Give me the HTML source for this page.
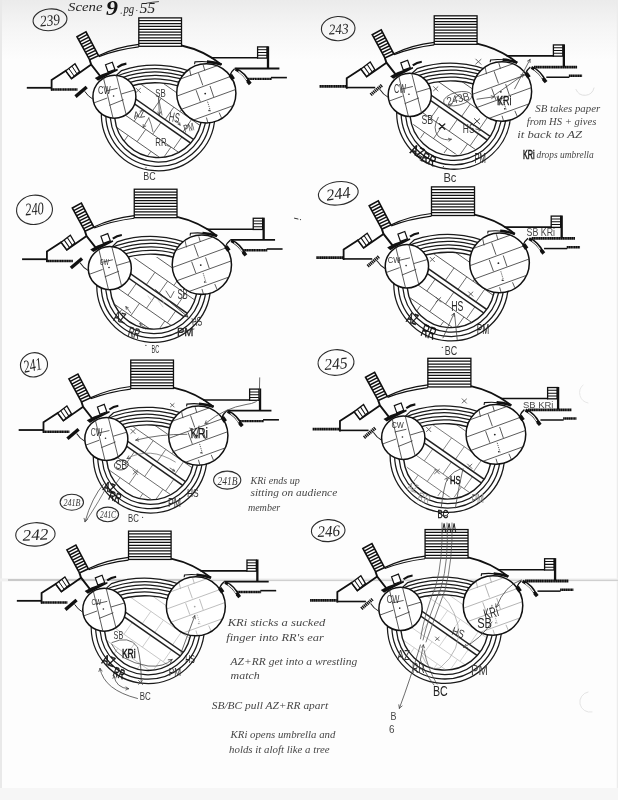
<!DOCTYPE html><html><head><meta charset="utf-8"><title>Scene 9 pg 55</title>
<style>html,body{margin:0;padding:0;background:#fdfdfd}body{width:618px;height:800px;overflow:hidden;font-family:"Liberation Sans",sans-serif}svg{display:block}</style></head><body>
<svg width="618" height="800" viewBox="0 0 618 800">
<defs><linearGradient id="topg" x1="0" y1="0" x2="0" y2="1"><stop offset="0" stop-color="#ebebeb"/><stop offset="0.45" stop-color="#f5f5f5"/><stop offset="1" stop-color="#fdfdfd"/></linearGradient>
<clipPath id="platclip"><path d="M122.50 88.97A43.6 43.6 0 1 0 196.51 93.19A87.4 87.4 0 0 0 122.50 88.97Z"/></clipPath>
<clipPath id="smclip"><circle cx="114.4" cy="96.7" r="21.5"/></clipPath>
<clipPath id="bgclip"><circle cx="206.3" cy="93.3" r="29.6"/></clipPath>
<g id="stA"><path d="M121.62 70.55A56.8 56.8 0 1 0 199.48 74.99A105.0 105.0 0 0 0 121.62 70.55Z" fill="#fff" stroke="#1a1a1a" stroke-width="1.25"/><path d="M112.0 78.05A101.6 101.6 0 0 1 200.0 79.01" fill="none" stroke="#1a1a1a" stroke-width="1.25"/><path d="M119.69 78.47A52.4 52.4 0 1 0 200.50 83.08A98.2 98.2 0 0 0 119.69 78.47Z" fill="#fff" stroke="#1a1a1a" stroke-width="1.25"/><path d="M112.0 85.73A94.7 94.7 0 0 1 200.0 86.77" fill="none" stroke="#1a1a1a" stroke-width="1.25"/><path d="M118.99 86.31A48.0 48.0 0 1 0 200.30 90.95A91.2 91.2 0 0 0 118.99 86.31Z" fill="#fff" stroke="#1a1a1a" stroke-width="1.25"/><path d="M122.50 88.97A43.6 43.6 0 1 0 196.51 93.19A87.4 87.4 0 0 0 122.50 88.97Z" fill="#fff" stroke="#1a1a1a" stroke-width="1.4"/></g><g id="stP"><g clip-path="url(#platclip)" stroke="#333" fill="none"><path d="M107.9 61.2L239.1 152.7" stroke-width="0.8"/><path d="M159.9 81.0L197.6 107.3" stroke-width="0.8"/><path d="M88.3 89.3L219.5 180.9" stroke-width="0.8"/><path d="M79.7 101.6L210.9 193.2" stroke-width="0.8"/><path d="M161.2 98.4L152.5 110.8" stroke-width="0.7"/><path d="M173.8 107.2L165.1 119.6" stroke-width="0.7"/><path d="M191.6 119.5L182.9 132.0" stroke-width="0.7"/><path d="M161.0 122.4L152.7 134.3" stroke-width="0.7"/><path d="M142.5 109.5L134.2 121.3" stroke-width="0.7"/><path d="M181.9 136.9L173.6 148.8" stroke-width="0.7"/><path d="M171.0 147.0L162.4 159.3" stroke-width="0.7"/><path d="M145.7 129.4L137.1 141.7" stroke-width="0.7"/><path d="M128.1 135.4L120.0 147.0" stroke-width="0.7"/><path d="M150.9 151.3L142.8 162.9" stroke-width="0.7"/><path d="M187.8 100.5L180.1 111.5" stroke-width="0.7"/></g></g><g id="stE"><g clip-path="url(#platclip)" stroke="#222" fill="none"><path d="M99.2 73.6L230.4 165.2" stroke-width="1.5"/><path d="M96.6 77.4L227.8 169.0" stroke-width="1.5"/></g></g><g id="stB"><circle cx="114.4" cy="96.7" r="21.5" fill="#fff" stroke="#111" stroke-width="1.5"/><g clip-path="url(#smclip)" stroke="#333" stroke-width="0.8" fill="none"><path d="M102.5 74L113.5 120M115.8 73L126.5 116M92 103.6L107.2 98M109.4 105.4L123.6 99.7M121.3 94L137 89.3M105.9 91L117.5 88.3"/></g><circle cx="113.6" cy="96" r="0.8" fill="#222"/><circle cx="206.3" cy="93.3" r="29.6" fill="#fff" stroke="#111" stroke-width="1.5"/></g><g id="stC"><g clip-path="url(#bgclip)" stroke="#333" stroke-width="0.8" fill="none"><path d="M175 80.9L225 62.9M175 96.8L240 73M175 111.6L240 87.9M190 121.3L240 103.2"/><path d="M198.5 73.2L202.8 85.3M189.5 69L191 76M203.2 65L204.8 70.5M196.1 90.2L200.3 101.7M210 86L213.7 96.9M219.2 112.6L221.5 118M206.4 117.5L208 123"/><path d="M207.6 101.7L210.7 112" stroke-dasharray="1.2 1"/></g><circle cx="205.2" cy="93.6" r="0.9" fill="#222"/><circle cx="209.1" cy="110.6" r="0.8" fill="#222"/></g><g id="stD"><rect x="138.8" y="17.9" width="42.7" height="28.4" fill="#fff" stroke="#111" stroke-width="1.3"/><path d="M138.8 20.74H181.5M138.8 23.58H181.5M138.8 26.42H181.5M138.8 29.26H181.5M138.8 32.10H181.5M138.8 34.94H181.5M138.8 37.78H181.5M138.8 40.62H181.5M138.8 43.46H181.5" stroke="#111" stroke-width="1.25" fill="none"/><path d="M98.5 55.7Q116 47 138.8 44.3" stroke="#111" stroke-width="1.2" fill="none"/><path d="M98.8 56.6Q117 49.6 138.8 46.9" stroke="#111" stroke-width="1.2" fill="none"/><path d="M181.5 45.5Q204 50.5 221.5 64.6" stroke="#111" stroke-width="1.8" fill="none"/><path d="M211 57.8H258" stroke="#111" stroke-width="1.6" fill="none"/><rect x="257.6" y="46.9" width="9.4" height="11.2" fill="#fff" stroke="#111" stroke-width="1.3"/><path d="M257.6 49.70H267M257.6 52.50H267M257.6 55.30H267" stroke="#111" stroke-width="1.0" fill="none"/><path d="M268 46.3V68.6" stroke="#111" stroke-width="2.3" fill="none"/><path d="M235.6 69.2Q244.5 73.5 249 82.6" stroke="#111" stroke-width="3.1" fill="none"/><path d="M238.5 71.2Q244 75 246.8 80" stroke="#fff" stroke-width="1.1" fill="none"/><path d="M247.8 81L250.3 84" stroke="#111" stroke-width="3.6" fill="none"/><path d="M234.6 68.8Q231.2 71.5 229.8 75.5" stroke="#111" stroke-width="1.3" fill="none"/><path d="M230.3 75L233.3 79.3" stroke="#111" stroke-width="4" fill="none"/><path d="M194.6 64.2L194.9 61.9Q208 60.3 221.5 64.6" stroke="#111" stroke-width="1.1" fill="none"/><path d="M207 61.6Q214 62 221.5 64.6" stroke="#111" stroke-width="2.6" fill="none"/><path d="M51.6 90.5V80L65.8 70.8L71.5 78.4L91.2 64.6" stroke="#111" stroke-width="1.8" fill="none" stroke-linejoin="miter"/><polygon points="65.8,70.8 75.0,63.8 79.6,71.6 71.5,78.4" fill="#fff" stroke="#111" stroke-width="1.3"/><path d="" stroke="#111" stroke-width="0.9" fill="none"/><path d="M68.8 68.5L74.2 76.2M71.9 66.1L77 73.9" stroke="#111" stroke-width="1.0" fill="none"/><polygon points="77.0,36.7 86.0,31.8 98.5,55.7 89.6,59.8" fill="#fff" stroke="#111" stroke-width="1.6"/><path d="M78.40 39.27L87.39 34.46M79.80 41.83L88.78 37.11M81.20 44.40L90.17 39.77M82.60 46.97L91.56 42.42M84.00 49.53L92.94 45.08M85.40 52.10L94.33 47.73M86.80 54.67L95.72 50.39M88.20 57.23L97.11 53.04" stroke="#111" stroke-width="1.45" fill="none"/><path d="M89.6 59.8L91.2 64.6L100.5 76.5" stroke="#111" stroke-width="1.9" fill="none"/><polygon points="105.5,64.8 112.3,62.2 114.9,69.5 108,72" fill="#fff" stroke="#111" stroke-width="1.2"/><polygon points="94.8,78 102,74.2 109,71.7 117.5,68.8 117.8,70.4 109.5,74.6 103,77.9 98,80.7" fill="#111"/><path d="M117.4 67.3Q121.5 64.3 126.4 63.6" stroke="#111" stroke-width="2.1" fill="none"/><path d="M84.7 91.3Q88 96.5 93 99.2" stroke="#222" stroke-width="1.0" fill="none"/></g><g id="stV1"><path d="M234.7 68.5H279.4" stroke="#111" stroke-width="1.8" fill="none"/><path d="M247.7 78.9H271.8" stroke="#111" stroke-width="2.4" stroke-dasharray="1.5 0.2" fill="none"/><path d="M271 77.6H286.9" stroke="#111" stroke-width="1.6" fill="none"/><path d="M26.8 87.8H51.6" stroke="#111" stroke-width="1.8" fill="none"/><path d="M51 89.5H77.5" stroke="#111" stroke-width="2.4" stroke-dasharray="1.5 0.2" fill="none"/><path d="M75.5 96.6L86.7 87" stroke="#111" stroke-width="3.4" fill="none"/></g><g id="stV2"><path d="M238.2 69H281.2" stroke="#111" stroke-width="2.8" stroke-dasharray="1.6 0.2" fill="none"/><path d="M250.5 79.1H273.5" stroke="#111" stroke-width="1.5" fill="none"/><path d="M273 77.7H286.2" stroke="#111" stroke-width="2.5" stroke-dasharray="1.6 0.2" fill="none"/><path d="M24.5 88.2H51" stroke="#111" stroke-width="2.7" stroke-dasharray="1.6 0.2" fill="none"/><path d="M51 89.4H80" stroke="#111" stroke-width="1.6" fill="none"/><path d="M75.5 96.6L86.7 87" stroke="#111" stroke-width="3.4" stroke-dasharray="1.3 0.6" fill="none"/></g>
</defs>
<rect width="618" height="800" fill="#fdfdfd"/>
<rect x="0" y="0" width="618" height="60" fill="url(#topg)"/><rect x="0" y="0" width="2" height="800" fill="#e9e9e9"/><rect x="616.8" y="0" width="1.2" height="800" fill="#ececec"/><rect x="0" y="788" width="618" height="12" fill="#f6f6f6"/>
<rect x="0" y="578.4" width="618" height="3" fill="#f0f0f0"/><path d="M8 580H210" stroke="#999" stroke-width="0.9"/><path d="M210 580.3H618" stroke="#c4c4c4" stroke-width="0.9"/>
<g transform="translate(0.00 0.00) scale(1.0000)"><use href="#stA"/><g clip-path="url(#platclip)"><g transform="translate(0 0)"><use href="#stP" opacity="1"/><use href="#stE"/></g></g><use href="#stB"/><use href="#stC" opacity="1"/><use href="#stD"/><use href="#stV1"/></g>
<g transform="translate(-4.76 171.29) scale(1.0015)"><use href="#stA"/><g clip-path="url(#platclip)"><g transform="translate(-1.7 2.5)"><use href="#stP" opacity="1"/><use href="#stE"/></g></g><use href="#stB"/><use href="#stC" opacity="1"/><use href="#stD"/><use href="#stV1"/></g>
<g transform="translate(-8.15 342.16) scale(1.0007)"><use href="#stA"/><g clip-path="url(#platclip)"><g transform="translate(0 0)"><use href="#stP" opacity="0.9"/><use href="#stE"/></g></g><use href="#stB"/><use href="#stC" opacity="1"/><use href="#stD"/><use href="#stV1"/></g>
<g transform="translate(-9.88 513.28) scale(0.9971)"><use href="#stA"/><g clip-path="url(#platclip)"><g transform="translate(0 0)"><use href="#stP" opacity="0.35"/><use href="#stE"/></g></g><use href="#stB"/><use href="#stC" opacity="0.4"/><use href="#stD"/><use href="#stV1"/></g>
<g transform="translate(294.96 -2.13) scale(1.0033)"><use href="#stA"/><g clip-path="url(#platclip)"><g transform="translate(1.0 -1.4)"><use href="#stP" opacity="1"/><use href="#stE"/></g></g><use href="#stB"/><use href="#stC" opacity="1"/><use href="#stD"/><use href="#stV2"/></g>
<g transform="translate(291.62 168.84) scale(1.0077)"><use href="#stA"/><g clip-path="url(#platclip)"><g transform="translate(0 0)"><use href="#stP" opacity="1"/><use href="#stE"/></g></g><use href="#stB"/><use href="#stC" opacity="1"/><use href="#stD"/><use href="#stV2"/></g>
<g transform="translate(287.93 340.26) scale(1.0081)"><use href="#stA"/><g clip-path="url(#platclip)"><g transform="translate(1.1 -1.6)"><use href="#stP" opacity="0.8"/><use href="#stE"/></g></g><use href="#stB"/><use href="#stC" opacity="1"/><use href="#stD"/><use href="#stV2"/></g>
<g transform="translate(285.41 511.55) scale(1.0062)"><use href="#stA"/><g clip-path="url(#platclip)"><g transform="translate(0 0)"><use href="#stP" opacity="0.3"/><use href="#stE"/></g></g><use href="#stB"/><use href="#stC" opacity="0.45"/><use href="#stD"/><use href="#stV2"/></g>
<g opacity="0.99"><text x="68.0" y="10.8" font-size="13.5" textLength="34.5" lengthAdjust="spacingAndGlyphs" fill="#222" font-style="italic" font-family='"Liberation Serif",serif'>Scene</text>
<text x="106.0" y="14.8" font-size="20.6" textLength="12.0" lengthAdjust="spacingAndGlyphs" fill="#111" font-weight="bold" font-style="italic" font-family='"Liberation Serif",serif'>9</text>
<circle cx="121.2" cy="13.2" r="0.6" fill="#333"/>
<text x="123.5" y="12.6" font-size="11.5" textLength="10.7" lengthAdjust="spacingAndGlyphs" fill="#222" font-style="italic" font-family='"Liberation Serif",serif'>pg</text>
<circle cx="136.8" cy="10.5" r="0.6" fill="#333"/>
<text x="139.4" y="12.5" font-size="14.7" textLength="15.9" lengthAdjust="spacingAndGlyphs" fill="#222" font-weight="normal" font-style="italic" font-family='"Liberation Serif",serif'>55</text>
<path d="M146.5 3.2Q152 2.2 158.5 1.6" fill="none" stroke="#333" stroke-width="0.9" stroke-linecap="round" />
<ellipse cx="50" cy="19.8" rx="17" ry="10.8" fill="none" stroke="#2a2a2a" stroke-width="1.1" transform="rotate(-6 50 19.8)"/>
<text x="40.0" y="25.6" font-size="15.8" textLength="20.0" lengthAdjust="spacingAndGlyphs" fill="#222" font-weight="normal" font-style="italic" font-family='"Liberation Serif",serif' transform="rotate(-6 50.0 20.4)">239</text>
<ellipse cx="338.2" cy="28.6" rx="16.8" ry="12.1" fill="none" stroke="#2a2a2a" stroke-width="1.1" transform="rotate(-3 338.2 28.6)"/>
<text x="328.7" y="34.0" font-size="14.7" textLength="19.8" lengthAdjust="spacingAndGlyphs" fill="#222" font-weight="normal" font-style="italic" font-family='"Liberation Serif",serif' transform="rotate(-3 338.6 29.1)">243</text>
<ellipse cx="34.5" cy="209.8" rx="18" ry="14.6" fill="none" stroke="#2a2a2a" stroke-width="1.1" transform="rotate(-5 34.5 209.8)"/>
<text x="25.2" y="214.7" font-size="17.7" textLength="18.5" lengthAdjust="spacingAndGlyphs" fill="#222" font-weight="normal" font-style="italic" font-family='"Liberation Serif",serif' transform="rotate(-5 34.5 208.8)">240</text>
<ellipse cx="338.3" cy="193.3" rx="20" ry="11.6" fill="none" stroke="#2a2a2a" stroke-width="1.1" transform="rotate(-8 338.3 193.3)"/>
<text x="326.2" y="199.1" font-size="16.2" textLength="24.3" lengthAdjust="spacingAndGlyphs" fill="#222" font-weight="normal" font-style="italic" font-family='"Liberation Serif",serif' transform="rotate(-8 338.4 193.8)">244</text>
<ellipse cx="34" cy="364.8" rx="13.6" ry="12.1" fill="none" stroke="#2a2a2a" stroke-width="1.1" transform="rotate(-12 34 364.8)"/>
<text x="23.3" y="371.0" font-size="17.6" textLength="18.4" lengthAdjust="spacingAndGlyphs" fill="#222" font-weight="normal" font-style="italic" font-family='"Liberation Serif",serif' transform="rotate(-12 32.5 365.2)">241</text>
<ellipse cx="336" cy="362.5" rx="18" ry="12.8" fill="none" stroke="#2a2a2a" stroke-width="1.1" transform="rotate(-5 336 362.5)"/>
<text x="324.3" y="369.1" font-size="16.2" textLength="23.3" lengthAdjust="spacingAndGlyphs" fill="#222" font-weight="normal" font-style="italic" font-family='"Liberation Serif",serif' transform="rotate(-5 336.0 363.8)">245</text>
<ellipse cx="35.4" cy="534.4" rx="19.7" ry="11.7" fill="none" stroke="#2a2a2a" stroke-width="1.1" transform="rotate(-3 35.4 534.4)"/>
<text x="22.5" y="540.0" font-size="15.9" textLength="26.0" lengthAdjust="spacingAndGlyphs" fill="#222" font-weight="normal" font-style="italic" font-family='"Liberation Serif",serif' transform="rotate(-3 35.5 534.8)">242</text>
<ellipse cx="328.2" cy="530.6" rx="16.8" ry="11" fill="none" stroke="#2a2a2a" stroke-width="1.1" transform="rotate(-3 328.2 530.6)"/>
<text x="317.5" y="536.5" font-size="15.9" textLength="22.5" lengthAdjust="spacingAndGlyphs" fill="#222" font-weight="normal" font-style="italic" font-family='"Liberation Serif",serif' transform="rotate(-3 328.8 531.2)">246</text>
<text x="98.0" y="93.5" font-size="11.0" textLength="12.6" lengthAdjust="spacingAndGlyphs" fill="#333" font-weight="normal" font-style="normal" font-family='"Liberation Sans",sans-serif'>CW</text>
<path d="M136.1 88.2L140.5 92.6M140.5 88.4L136.1 92.4" fill="none" stroke="#444" stroke-width="0.8" stroke-linecap="round" />
<text x="155.3" y="96.8" font-size="10.0" textLength="10.5" lengthAdjust="spacingAndGlyphs" fill="#333" font-weight="normal" font-style="normal" font-family='"Liberation Sans",sans-serif'>SB</text>
<text x="133.5" y="117.9" font-size="10.1" textLength="11.3" lengthAdjust="spacingAndGlyphs" fill="#333" font-weight="normal" font-style="normal" font-family='"Liberation Sans",sans-serif' transform="rotate(-8 139.2 114.2)">AZ</text>
<text x="169.0" y="122.0" font-size="13.6" textLength="10.6" lengthAdjust="spacingAndGlyphs" fill="#333" font-weight="normal" font-style="normal" font-family='"Liberation Sans",sans-serif' transform="rotate(10 174.3 117.1)">HS</text>
<text x="183.6" y="131.6" font-size="11.2" textLength="10.5" lengthAdjust="spacingAndGlyphs" fill="#333" font-weight="normal" font-style="normal" font-family='"Liberation Sans",sans-serif' transform="rotate(-15 188.8 127.5)">PM</text>
<text x="155.3" y="146.2" font-size="10.1" textLength="11.3" lengthAdjust="spacingAndGlyphs" fill="#333" font-weight="normal" font-style="normal" font-family='"Liberation Sans",sans-serif'>RR</text>
<text x="143.3" y="180.0" font-size="10.7" textLength="12.4" lengthAdjust="spacingAndGlyphs" fill="#333" font-weight="normal" font-style="normal" font-family='"Liberation Sans",sans-serif'>BC</text>
<circle cx="146" cy="167.7" r="0.6" fill="#333"/>
<path d="M158.5 97.7L159.4 114.5" fill="none" stroke="#444" stroke-width="0.8" stroke-linecap="round" />
<path d="M159.4 114.5L157.8 112.0" fill="none" stroke="#444" stroke-width="0.8" stroke-linecap="round" />
<path d="M159.4 114.5L160.8 111.8" fill="none" stroke="#444" stroke-width="0.8" stroke-linecap="round" />
<path d="M158.5 97.7L162 115" fill="none" stroke="#444" stroke-width="0.7" stroke-linecap="round" />
<path d="M148.8 117.9L143.2 127.5" fill="none" stroke="#444" stroke-width="0.8" stroke-linecap="round" />
<path d="M143.2 127.5L143.2 124.5" fill="none" stroke="#444" stroke-width="0.8" stroke-linecap="round" />
<path d="M143.2 127.5L145.8 126.0" fill="none" stroke="#444" stroke-width="0.8" stroke-linecap="round" />
<path d="M148.8 117.9Q151.5 124 152.9 131.6" fill="none" stroke="#444" stroke-width="0.7" stroke-linecap="round" />
<path d="M176.5 120.5L180 125" fill="none" stroke="#444" stroke-width="0.8" stroke-linecap="round" />
<path d="M180.0 125.0L178.0 124.2" fill="none" stroke="#444" stroke-width="0.8" stroke-linecap="round" />
<path d="M180.0 125.0L179.7 122.8" fill="none" stroke="#444" stroke-width="0.8" stroke-linecap="round" />
<path d="M166.8 145.5L169.5 146.3" fill="none" stroke="#444" stroke-width="0.8" stroke-linecap="round" />
<text x="394.0" y="92.7" font-size="12.5" textLength="12.0" lengthAdjust="spacingAndGlyphs" fill="#333" font-weight="normal" font-style="normal" font-family='"Liberation Sans",sans-serif'>CW</text>
<path d="M475.8 59.1L481.0 64.3M481.0 59.4L475.8 64.0" fill="none" stroke="#444" stroke-width="0.8" stroke-linecap="round" />
<path d="M433.5 86.6L437.9 91.0M437.9 86.8L433.5 90.8" fill="none" stroke="#444" stroke-width="0.8" stroke-linecap="round" />
<ellipse cx="457.7" cy="98.7" rx="14.5" ry="6.5" fill="none" stroke="#555" stroke-width="0.8" transform="rotate(-14 457.7 98.7)"/>
<text x="446.5" y="102.5" font-size="11.1" textLength="23.0" lengthAdjust="spacingAndGlyphs" fill="#444" font-weight="normal" font-style="normal" font-family='"Liberation Sans",sans-serif' transform="rotate(-14 458.0 98.5)">243B</text>
<text x="421.4" y="123.8" font-size="12.6" textLength="11.6" lengthAdjust="spacingAndGlyphs" fill="#333" font-weight="normal" font-style="normal" font-family='"Liberation Sans",sans-serif'>SB</text>
<path d="M439.2 123.6L444.8 129.2M444.8 123.9L439.2 128.9" fill="none" stroke="#222" stroke-width="1.3" stroke-linecap="round" />
<path d="M438.3 117.3Q432 128 438 136Q444 141 451 139.5" fill="none" stroke="#444" stroke-width="0.8" stroke-linecap="round" />
<path d="M451.2 139.3L448.9 141.2" fill="none" stroke="#444" stroke-width="0.8" stroke-linecap="round" />
<path d="M451.2 139.3L448.4 138.3" fill="none" stroke="#444" stroke-width="0.8" stroke-linecap="round" />
<text x="462.8" y="132.8" font-size="12.5" textLength="11.7" lengthAdjust="spacingAndGlyphs" fill="#333" font-weight="normal" font-style="normal" font-family='"Liberation Sans",sans-serif'>HS</text>
<path d="M474.4 118.6L479.6 123.8M479.6 118.9L474.4 123.5" fill="none" stroke="#333" stroke-width="1.0" stroke-linecap="round" />
<path d="M475.8 129L481 130.3" fill="none" stroke="#444" stroke-width="0.8" stroke-linecap="round" />
<path d="M481.0 130.3L478.9 130.9" fill="none" stroke="#444" stroke-width="0.8" stroke-linecap="round" />
<path d="M481.0 130.3L479.4 128.8" fill="none" stroke="#444" stroke-width="0.8" stroke-linecap="round" />
<text x="497.0" y="105.0" font-size="12.5" textLength="14.5" lengthAdjust="spacingAndGlyphs" fill="#1a1a1a" font-weight="normal" font-style="normal" font-family='"Liberation Sans",sans-serif' stroke="#1a1a1a" stroke-width="0.3">KRi</text>
<path d="M497 97L500 104M502 96.5L499.5 105" fill="none" stroke="#222" stroke-width="0.8" stroke-linecap="round" />
<path d="M477 99.2L494 96.8" fill="none" stroke="#444" stroke-width="0.8" stroke-linecap="round" />
<path d="M494.0 96.8L491.6 98.6" fill="none" stroke="#444" stroke-width="0.8" stroke-linecap="round" />
<path d="M494.0 96.8L491.2 95.7" fill="none" stroke="#444" stroke-width="0.8" stroke-linecap="round" />
<path d="M494 95.5L523.7 74.6" fill="none" stroke="#444" stroke-width="0.8" stroke-linecap="round" />
<path d="M523.7 74.6L522.4 77.3" fill="none" stroke="#444" stroke-width="0.8" stroke-linecap="round" />
<path d="M523.7 74.6L520.7 74.9" fill="none" stroke="#444" stroke-width="0.8" stroke-linecap="round" />
<path d="M514.6 88.8L530 59.5" fill="none" stroke="#444" stroke-width="0.8" stroke-linecap="round" />
<path d="M530.0 59.5L530.1 62.5" fill="none" stroke="#444" stroke-width="0.8" stroke-linecap="round" />
<path d="M530.0 59.5L527.5 61.1" fill="none" stroke="#444" stroke-width="0.8" stroke-linecap="round" />
<text x="411.0" y="156.0" font-size="13.9" textLength="13.0" lengthAdjust="spacingAndGlyphs" fill="#111" font-weight="normal" font-style="normal" font-family='"Liberation Sans",sans-serif' transform="rotate(25 417.5 151.0)" stroke="#111" stroke-width="0.5">AZ</text>
<text x="422.0" y="164.0" font-size="13.9" textLength="14.0" lengthAdjust="spacingAndGlyphs" fill="#111" font-weight="normal" font-style="normal" font-family='"Liberation Sans",sans-serif' transform="rotate(25 429.0 159.0)" stroke="#111" stroke-width="0.5">RR</text>
<path d="M411 150L424 158M420 160L434 166" fill="none" stroke="#222" stroke-width="0.9" stroke-linecap="round" />
<text x="474.5" y="162.6" font-size="14.3" textLength="11.5" lengthAdjust="spacingAndGlyphs" fill="#222" font-weight="normal" font-style="normal" font-family='"Liberation Sans",sans-serif'>PM</text>
<text x="443.4" y="182.0" font-size="12.5" textLength="13.0" lengthAdjust="spacingAndGlyphs" fill="#333" font-weight="normal" font-style="normal" font-family='"Liberation Sans",sans-serif'>Bc</text>
<circle cx="443.4" cy="166.5" r="0.6" fill="#333"/>
<text x="535.3" y="111.5" font-size="10.5" textLength="64.9" lengthAdjust="spacingAndGlyphs" fill="#444" font-style="italic" font-family='"Liberation Serif",serif'>SB takes paper</text>
<text x="526.7" y="124.9" font-size="10.5" textLength="69.7" lengthAdjust="spacingAndGlyphs" fill="#444" font-style="italic" font-family='"Liberation Serif",serif'>from HS + gives</text>
<text x="517.2" y="138.2" font-size="10.5" textLength="64.9" lengthAdjust="spacingAndGlyphs" fill="#444" font-style="italic" font-family='"Liberation Serif",serif'>it back to AZ</text>
<text x="522.9" y="158.5" font-size="12.5" textLength="11.6" lengthAdjust="spacingAndGlyphs" fill="#111" font-weight="normal" font-style="normal" font-family='"Liberation Sans",sans-serif' stroke="#111" stroke-width="0.5">KRi</text>
<text x="536.5" y="158.3" font-size="10.5" textLength="57.1" lengthAdjust="spacingAndGlyphs" fill="#444" font-style="italic" font-family='"Liberation Serif",serif'>drops umbrella</text>
<path d="M576 89.5A9.5 9.5 0 0 0 594 88" fill="none" stroke="#d8d8d8" stroke-width="0.8" stroke-linecap="round" />
<text x="99.8" y="265.0" font-size="8.8" textLength="9.0" lengthAdjust="spacingAndGlyphs" fill="#333" font-weight="normal" font-style="normal" font-family='"Liberation Sans",sans-serif'>CW</text>
<text x="177.4" y="298.8" font-size="14.4" textLength="10.4" lengthAdjust="spacingAndGlyphs" fill="#333" font-weight="normal" font-style="normal" font-family='"Liberation Sans",sans-serif'>SB</text>
<path d="M155.4 289.7L187.8 316.9" fill="none" stroke="#333" stroke-width="0.9" stroke-linecap="round" />
<path d="M187.8 316.9L184.4 316.3" fill="none" stroke="#333" stroke-width="0.9" stroke-linecap="round" />
<path d="M187.8 316.9L186.6 313.6" fill="none" stroke="#333" stroke-width="0.9" stroke-linecap="round" />
<path d="M166 291L170.5 298L174 291.5" fill="none" stroke="#444" stroke-width="0.8" stroke-linecap="round" />
<text x="191.7" y="326.0" font-size="12.6" textLength="10.3" lengthAdjust="spacingAndGlyphs" fill="#333" font-weight="normal" font-style="normal" font-family='"Liberation Sans",sans-serif' transform="rotate(-10 196.8 321.4)">HS</text>
<text x="177.0" y="335.5" font-size="11.8" textLength="16.5" lengthAdjust="spacingAndGlyphs" fill="#222" font-weight="normal" font-style="normal" font-family='"Liberation Sans",sans-serif' stroke="#222" stroke-width="0.3">PM</text>
<path d="M176 333L194 329" fill="none" stroke="#333" stroke-width="0.8" stroke-linecap="round" />
<text x="114.0" y="322.0" font-size="14.3" textLength="11.7" lengthAdjust="spacingAndGlyphs" fill="#222" font-weight="normal" font-style="normal" font-family='"Liberation Sans",sans-serif' transform="rotate(15 119.8 316.9)" stroke="#222" stroke-width="0.3">AZ</text>
<path d="M130.8 313L126 306.8" fill="none" stroke="#444" stroke-width="0.8" stroke-linecap="round" />
<path d="M126.0 306.8L128.3 307.7" fill="none" stroke="#444" stroke-width="0.8" stroke-linecap="round" />
<path d="M126.0 306.8L126.3 309.3" fill="none" stroke="#444" stroke-width="0.8" stroke-linecap="round" />
<text x="128.3" y="337.6" font-size="14.3" textLength="11.7" lengthAdjust="spacingAndGlyphs" fill="#222" font-weight="normal" font-style="normal" font-family='"Liberation Sans",sans-serif' transform="rotate(15 134.2 332.5)" stroke="#222" stroke-width="0.3">RR</text>
<path d="M145 329L140 323.5" fill="none" stroke="#444" stroke-width="0.8" stroke-linecap="round" />
<path d="M140.0 323.5L142.4 324.3" fill="none" stroke="#444" stroke-width="0.8" stroke-linecap="round" />
<path d="M140.0 323.5L140.5 325.9" fill="none" stroke="#444" stroke-width="0.8" stroke-linecap="round" />
<text x="151.6" y="353.2" font-size="10.8" textLength="7.7" lengthAdjust="spacingAndGlyphs" fill="#333" font-weight="normal" font-style="normal" font-family='"Liberation Sans",sans-serif'>BC</text>
<circle cx="145.9" cy="345.4" r="0.6" fill="#333"/>
<path d="M148 296L152 301M158 300L163 307M161 297L164 303" fill="none" stroke="#bbb" stroke-width="0.7" stroke-linecap="round" />
<path d="M294.5 218.2L298 219" fill="none" stroke="#333" stroke-width="1.0" stroke-linecap="round" />
<circle cx="300.5" cy="219.6" r="0.6" fill="#333"/>
<text x="90.8" y="435.8" font-size="10.1" textLength="11.6" lengthAdjust="spacingAndGlyphs" fill="#333" font-weight="normal" font-style="normal" font-family='"Liberation Sans",sans-serif'>CW</text>
<path d="M170.5 403.4L174.1 407.0M174.1 403.6L170.5 406.8" fill="none" stroke="#444" stroke-width="0.8" stroke-linecap="round" />
<path d="M130.8 429.2L135.2 433.6M135.2 429.4L130.8 433.4" fill="none" stroke="#444" stroke-width="0.8" stroke-linecap="round" />
<text x="190.5" y="438.0" font-size="15.3" textLength="17.5" lengthAdjust="spacingAndGlyphs" fill="#1a1a1a" font-weight="normal" font-style="normal" font-family='"Liberation Sans",sans-serif' stroke="#1a1a1a" stroke-width="0.25">KRi</text>
<path d="M190 428L195 438M199 426L196 438" fill="none" stroke="#222" stroke-width="0.8" stroke-linecap="round" />
<path d="M186.9 434.3Q160 434 135.9 440.1" fill="none" stroke="#444" stroke-width="0.8" stroke-linecap="round" />
<path d="M135.9 440.1L138.2 438.2" fill="none" stroke="#444" stroke-width="0.8" stroke-linecap="round" />
<path d="M135.9 440.1L138.7 441.1" fill="none" stroke="#444" stroke-width="0.8" stroke-linecap="round" />
<path d="M259.7 377.8L259.3 397Q258.5 403 246 404.5Q225 408 206 423" fill="none" stroke="#444" stroke-width="0.8" stroke-linecap="round" />
<path d="M205.0 423.8L206.1 420.8" fill="none" stroke="#444" stroke-width="0.8" stroke-linecap="round" />
<path d="M205.0 423.8L208.2 423.2" fill="none" stroke="#444" stroke-width="0.8" stroke-linecap="round" />
<path d="M127.2 458.5Q150 446 175.3 462" fill="none" stroke="#666" stroke-width="0.7" stroke-linecap="round" />
<path d="M127.2 458.5L128.7 455.9" fill="none" stroke="#444" stroke-width="0.8" stroke-linecap="round" />
<path d="M127.2 458.5L130.2 458.5" fill="none" stroke="#444" stroke-width="0.8" stroke-linecap="round" />
<ellipse cx="121.3" cy="464.9" rx="7" ry="5" fill="none" stroke="#2a2a2a" stroke-width="0.8" transform="rotate(-10 121.3 464.9)"/>
<text x="115.5" y="469.3" font-size="12.2" textLength="11.7" lengthAdjust="spacingAndGlyphs" fill="#333" font-weight="normal" font-style="normal" font-family='"Liberation Sans",sans-serif'>SB</text>
<path d="M133.1 470.0L137.5 474.4M137.5 470.2L133.1 474.2" fill="none" stroke="#444" stroke-width="0.8" stroke-linecap="round" />
<path d="M170 468L174.5 471" fill="none" stroke="#444" stroke-width="0.8" stroke-linecap="round" />
<path d="M174.5 471.0L172.5 470.9" fill="none" stroke="#444" stroke-width="0.8" stroke-linecap="round" />
<path d="M174.5 471.0L173.6 469.2" fill="none" stroke="#444" stroke-width="0.8" stroke-linecap="round" />
<text x="103.9" y="492.0" font-size="13.3" textLength="11.1" lengthAdjust="spacingAndGlyphs" fill="#111" font-weight="normal" font-style="normal" font-family='"Liberation Sans",sans-serif' transform="rotate(20 109.5 487.2)" stroke="#111" stroke-width="0.5">AZ</text>
<text x="109.0" y="501.3" font-size="12.9" textLength="12.4" lengthAdjust="spacingAndGlyphs" fill="#111" font-weight="normal" font-style="normal" font-family='"Liberation Sans",sans-serif' transform="rotate(20 115.2 496.6)" stroke="#111" stroke-width="0.5">RR</text>
<path d="M103.9 483.8Q92 497 85 521.7" fill="none" stroke="#444" stroke-width="0.8" stroke-linecap="round" />
<path d="M85.0 521.7L84.1 518.3" fill="none" stroke="#444" stroke-width="0.8" stroke-linecap="round" />
<path d="M85.0 521.7L87.5 519.2" fill="none" stroke="#444" stroke-width="0.8" stroke-linecap="round" />
<path d="M107 486Q100 500 86 521" fill="none" stroke="#444" stroke-width="0.7" stroke-linecap="round" />
<ellipse cx="71.8" cy="502.2" rx="11.7" ry="8" fill="none" stroke="#2a2a2a" stroke-width="1.1"/>
<text x="63.5" y="505.8" font-size="11.4" textLength="17.0" lengthAdjust="spacingAndGlyphs" fill="#333" font-weight="normal" font-style="italic" font-family='"Liberation Serif",serif'>241B</text>
<ellipse cx="107.7" cy="514.4" rx="10.9" ry="7.3" fill="none" stroke="#2a2a2a" stroke-width="1.1"/>
<text x="100.0" y="518.0" font-size="10.9" textLength="16.0" lengthAdjust="spacingAndGlyphs" fill="#333" font-weight="normal" font-style="italic" font-family='"Liberation Serif",serif'>241C</text>
<text x="128.0" y="521.7" font-size="10.1" textLength="10.8" lengthAdjust="spacingAndGlyphs" fill="#333" font-weight="normal" font-style="normal" font-family='"Liberation Sans",sans-serif'>BC</text>
<circle cx="142.6" cy="517.3" r="0.6" fill="#333"/>
<text x="168.0" y="507.0" font-size="11.9" textLength="13.0" lengthAdjust="spacingAndGlyphs" fill="#333" font-weight="normal" font-style="normal" font-family='"Liberation Sans",sans-serif'>PM</text>
<text x="186.9" y="497.0" font-size="10.1" textLength="11.7" lengthAdjust="spacingAndGlyphs" fill="#333" font-weight="normal" font-style="normal" font-family='"Liberation Sans",sans-serif'>HS</text>
<ellipse cx="227.2" cy="480.1" rx="13.6" ry="9" fill="none" stroke="#2a2a2a" stroke-width="1.1"/>
<text x="217.5" y="484.5" font-size="12.9" textLength="20.0" lengthAdjust="spacingAndGlyphs" fill="#333" font-weight="normal" font-style="italic" font-family='"Liberation Serif",serif'>241B</text>
<text x="250.5" y="484.0" font-size="10.5" textLength="49.2" lengthAdjust="spacingAndGlyphs" fill="#444" font-style="italic" font-family='"Liberation Serif",serif'>KRi ends up</text>
<text x="250.5" y="495.7" font-size="10.5" textLength="86.7" lengthAdjust="spacingAndGlyphs" fill="#444" font-style="italic" font-family='"Liberation Serif",serif'>sitting on audience</text>
<text x="247.9" y="511.2" font-size="10.5" textLength="32.4" lengthAdjust="spacingAndGlyphs" fill="#444" font-style="italic" font-family='"Liberation Serif",serif'>member</text>
<text x="91.6" y="604.8" font-size="9.6" textLength="9.7" lengthAdjust="spacingAndGlyphs" fill="#333" font-weight="normal" font-style="normal" font-family='"Liberation Sans",sans-serif'>CW</text>
<text x="113.6" y="639.1" font-size="11.4" textLength="9.7" lengthAdjust="spacingAndGlyphs" fill="#333" font-weight="normal" font-style="normal" font-family='"Liberation Sans",sans-serif'>SB</text>
<text x="121.9" y="658.4" font-size="13.3" textLength="13.8" lengthAdjust="spacingAndGlyphs" fill="#111" font-weight="normal" font-style="normal" font-family='"Liberation Sans",sans-serif' stroke="#111" stroke-width="0.5">KRi</text>
<text x="102.6" y="665.3" font-size="13.3" textLength="12.4" lengthAdjust="spacingAndGlyphs" fill="#111" font-weight="normal" font-style="normal" font-family='"Liberation Sans",sans-serif' transform="rotate(20 108.8 660.5)" stroke="#111" stroke-width="0.5">AZ</text>
<text x="113.6" y="677.7" font-size="13.5" textLength="11.0" lengthAdjust="spacingAndGlyphs" fill="#111" font-weight="normal" font-style="normal" font-family='"Liberation Sans",sans-serif' transform="rotate(20 119.1 672.9)" stroke="#111" stroke-width="0.5">RR</text>
<text x="185.2" y="662.5" font-size="11.4" textLength="9.6" lengthAdjust="spacingAndGlyphs" fill="#222" font-weight="normal" font-style="normal" font-family='"Liberation Sans",sans-serif'>HS</text>
<text x="168.7" y="676.3" font-size="11.5" textLength="12.3" lengthAdjust="spacingAndGlyphs" fill="#333" font-weight="normal" font-style="normal" font-family='"Liberation Sans",sans-serif'>PM</text>
<text x="139.8" y="699.7" font-size="11.5" textLength="11.0" lengthAdjust="spacingAndGlyphs" fill="#333" font-weight="normal" font-style="normal" font-family='"Liberation Sans",sans-serif'>BC</text>
<path d="M111.5 644Q119 661 148 666Q164 667.5 172 659.5" fill="none" stroke="#444" stroke-width="0.8" stroke-linecap="round" />
<path d="M172.0 659.5L170.4 662.9" fill="none" stroke="#444" stroke-width="0.8" stroke-linecap="round" />
<path d="M172.0 659.5L168.2 659.8" fill="none" stroke="#444" stroke-width="0.8" stroke-linecap="round" />
<path d="M181 652.9L194.8 615.8" fill="none" stroke="#444" stroke-width="0.8" stroke-linecap="round" />
<path d="M194.8 615.8L195.3 618.8" fill="none" stroke="#444" stroke-width="0.8" stroke-linecap="round" />
<path d="M194.8 615.8L192.5 617.7" fill="none" stroke="#444" stroke-width="0.8" stroke-linecap="round" />
<path d="M112 642.5Q129 635 137.5 647Q141.5 662 141.2 683.2" fill="none" stroke="#444" stroke-width="0.8" stroke-linecap="round" />
<path d="M138.5 680.5L142.5 684.5M142.5 680.7L138.5 684.3" fill="none" stroke="#444" stroke-width="0.8" stroke-linecap="round" />
<path d="M100 668.5Q104 690 137.5 698.5" fill="none" stroke="#444" stroke-width="0.8" stroke-linecap="round" />
<path d="M100.0 668.5L102.1 671.0" fill="none" stroke="#444" stroke-width="0.8" stroke-linecap="round" />
<path d="M100.0 668.5L98.9 671.5" fill="none" stroke="#444" stroke-width="0.8" stroke-linecap="round" />
<path d="M114 676Q116 688 128.5 688.7" fill="none" stroke="#444" stroke-width="0.8" stroke-linecap="round" />
<path d="M128.5 688.7L125.8 690.0" fill="none" stroke="#444" stroke-width="0.8" stroke-linecap="round" />
<path d="M128.5 688.7L126.0 687.0" fill="none" stroke="#444" stroke-width="0.8" stroke-linecap="round" />
<path d="M114.0 676.0L115.5 678.1" fill="none" stroke="#444" stroke-width="0.8" stroke-linecap="round" />
<path d="M114.0 676.0L112.9 678.4" fill="none" stroke="#444" stroke-width="0.8" stroke-linecap="round" />
<text x="227.7" y="625.6" font-size="10.5" textLength="97.6" lengthAdjust="spacingAndGlyphs" fill="#444" font-style="italic" font-family='"Liberation Serif",serif'>KRi sticks a sucked</text>
<text x="226.2" y="640.8" font-size="10.5" textLength="97.6" lengthAdjust="spacingAndGlyphs" fill="#444" font-style="italic" font-family='"Liberation Serif",serif'>finger into RR's ear</text>
<text x="230.6" y="664.7" font-size="10.5" textLength="126.7" lengthAdjust="spacingAndGlyphs" fill="#444" font-style="italic" font-family='"Liberation Serif",serif'>AZ+RR get into a wrestling</text>
<text x="230.6" y="678.6" font-size="10.5" textLength="29.1" lengthAdjust="spacingAndGlyphs" fill="#444" font-style="italic" font-family='"Liberation Serif",serif'>match</text>
<text x="211.7" y="709.2" font-size="10.5" textLength="116.5" lengthAdjust="spacingAndGlyphs" fill="#444" font-style="italic" font-family='"Liberation Serif",serif'>SB/BC pull AZ+RR apart</text>
<text x="230.6" y="738.4" font-size="10.5" textLength="104.8" lengthAdjust="spacingAndGlyphs" fill="#444" font-style="italic" font-family='"Liberation Serif",serif'>KRi opens umbrella and</text>
<text x="229.1" y="752.9" font-size="10.5" textLength="100.5" lengthAdjust="spacingAndGlyphs" fill="#444" font-style="italic" font-family='"Liberation Serif",serif'>holds it aloft like a tree</text>
<text x="387.8" y="263.0" font-size="9.7" textLength="12.5" lengthAdjust="spacingAndGlyphs" fill="#333" font-weight="normal" font-style="normal" font-family='"Liberation Sans",sans-serif'>CW</text>
<path d="M430.1 257.3L434.5 261.7M434.5 257.5L430.1 261.5" fill="none" stroke="#444" stroke-width="0.8" stroke-linecap="round" />
<text x="526.6" y="236.4" font-size="10.0" textLength="28.4" lengthAdjust="spacingAndGlyphs" fill="#444" font-weight="normal" font-style="normal" font-family='"Liberation Sans",sans-serif'>SB KRi</text>
<path d="M468.5 291.8L472.9 296.2M472.9 292.0L468.5 296.0" fill="none" stroke="#444" stroke-width="0.8" stroke-linecap="round" />
<path d="M436.0 297.3L440.8 302.1M440.8 297.5L436.0 301.9" fill="none" stroke="#444" stroke-width="0.8" stroke-linecap="round" />
<text x="451.2" y="311.0" font-size="14.7" textLength="12.1" lengthAdjust="spacingAndGlyphs" fill="#222" font-weight="normal" font-style="normal" font-family='"Liberation Sans",sans-serif'>HS</text>
<path d="M443 337.8L454 313.5" fill="none" stroke="#444" stroke-width="0.8" stroke-linecap="round" />
<path d="M454.0 313.5L454.3 316.5" fill="none" stroke="#444" stroke-width="0.8" stroke-linecap="round" />
<path d="M454.0 313.5L451.6 315.2" fill="none" stroke="#444" stroke-width="0.8" stroke-linecap="round" />
<path d="M457.2 339.6L454.5 313.5" fill="none" stroke="#444" stroke-width="0.8" stroke-linecap="round" />
<text x="407.4" y="323.6" font-size="14.9" textLength="10.6" lengthAdjust="spacingAndGlyphs" fill="#111" font-weight="normal" font-style="normal" font-family='"Liberation Sans",sans-serif' transform="rotate(20 412.7 318.2)" stroke="#111" stroke-width="0.5">AZ</text>
<text x="421.6" y="337.8" font-size="17.2" textLength="14.3" lengthAdjust="spacingAndGlyphs" fill="#111" font-weight="normal" font-style="normal" font-family='"Liberation Sans",sans-serif' transform="rotate(20 428.8 331.6)" stroke="#111" stroke-width="0.5">RR</text>
<text x="476.8" y="334.3" font-size="14.9" textLength="12.5" lengthAdjust="spacingAndGlyphs" fill="#222" font-weight="normal" font-style="normal" font-family='"Liberation Sans",sans-serif'>PM</text>
<text x="444.8" y="354.6" font-size="11.9" textLength="12.4" lengthAdjust="spacingAndGlyphs" fill="#333" font-weight="normal" font-style="normal" font-family='"Liberation Sans",sans-serif'>BC</text>
<circle cx="442.3" cy="347.4" r="0.6" fill="#333"/>
<text x="391.4" y="427.7" font-size="9.9" textLength="12.4" lengthAdjust="spacingAndGlyphs" fill="#333" font-weight="normal" font-style="normal" font-family='"Liberation Sans",sans-serif'>CW</text>
<path d="M462.1 398.8L466.5 403.2M466.5 399.0L462.1 403.0" fill="none" stroke="#444" stroke-width="0.8" stroke-linecap="round" />
<path d="M426.5 427.3L430.9 431.7M430.9 427.5L426.5 431.5" fill="none" stroke="#444" stroke-width="0.8" stroke-linecap="round" />
<text x="523.0" y="408.0" font-size="9.7" textLength="30.3" lengthAdjust="spacingAndGlyphs" fill="#444" font-weight="normal" font-style="normal" font-family='"Liberation Sans",sans-serif'>SB KRi</text>
<path d="M467.5 464.0L471.9 468.4M471.9 464.2L467.5 468.2" fill="none" stroke="#444" stroke-width="0.8" stroke-linecap="round" />
<path d="M434.6 469.1L439.4 473.9M439.4 469.3L434.6 473.7" fill="none" stroke="#444" stroke-width="0.8" stroke-linecap="round" />
<text x="450.0" y="484.0" font-size="10.4" textLength="10.5" lengthAdjust="spacingAndGlyphs" fill="#111" font-weight="normal" font-style="normal" font-family='"Liberation Sans",sans-serif' stroke="#111" stroke-width="0.4">HS</text>
<path d="M460.8 468.7Q446 474 444 490Q442 500 441.2 507.8" fill="none" stroke="#444" stroke-width="0.8" stroke-linecap="round" />
<path d="M463 468.7Q458 490 455.4 507.8" fill="none" stroke="#444" stroke-width="0.8" stroke-linecap="round" />
<path d="M447.0 478.0L447.0 480.5" fill="none" stroke="#444" stroke-width="0.8" stroke-linecap="round" />
<path d="M447.0 478.0L444.8 479.2" fill="none" stroke="#444" stroke-width="0.8" stroke-linecap="round" />
<text x="407.4" y="491.8" font-size="12.2" textLength="10.6" lengthAdjust="spacingAndGlyphs" fill="#999" font-weight="normal" font-style="normal" font-family='"Liberation Sans",sans-serif' transform="rotate(20 412.7 487.4)">AZ</text>
<text x="418.0" y="502.5" font-size="12.4" textLength="12.5" lengthAdjust="spacingAndGlyphs" fill="#999" font-weight="normal" font-style="normal" font-family='"Liberation Sans",sans-serif' transform="rotate(20 424.2 498.1)">RR</text>
<text x="471.5" y="502.5" font-size="12.4" textLength="12.5" lengthAdjust="spacingAndGlyphs" fill="#888" font-weight="normal" font-style="normal" font-family='"Liberation Sans",sans-serif'>PM</text>
<text x="437.6" y="517.8" font-size="10.1" textLength="10.7" lengthAdjust="spacingAndGlyphs" fill="#111" font-weight="normal" font-style="normal" font-family='"Liberation Sans",sans-serif' stroke="#111" stroke-width="0.4">BC</text>
<path d="M439 512Q444 520 449 513" fill="none" stroke="#222" stroke-width="0.9" stroke-linecap="round" />
<path d="M442.3 532L444.1 523.5L445.7 532" fill="none" stroke="#222" stroke-width="1.0" stroke-linecap="round" />
<path d="M447.3 532L449.1 523.5L450.7 532" fill="none" stroke="#222" stroke-width="1.0" stroke-linecap="round" />
<path d="M452.3 532L454.1 523.5L455.7 532" fill="none" stroke="#222" stroke-width="1.0" stroke-linecap="round" />
<text x="386.8" y="603.0" font-size="11.5" textLength="12.6" lengthAdjust="spacingAndGlyphs" fill="#333" font-weight="normal" font-style="normal" font-family='"Liberation Sans",sans-serif'>CW</text>
<text x="483.6" y="617.8" font-size="14.6" textLength="14.7" lengthAdjust="spacingAndGlyphs" fill="#222" font-weight="normal" font-style="normal" font-family='"Liberation Sans",sans-serif' transform="rotate(-15 491.0 612.5)">KRi</text>
<text x="477.2" y="628.3" font-size="14.6" textLength="14.8" lengthAdjust="spacingAndGlyphs" fill="#222" font-weight="normal" font-style="normal" font-family='"Liberation Sans",sans-serif'>SB</text>
<path d="M521.4 579.9Q505 585 496.2 607.3" fill="none" stroke="#444" stroke-width="0.8" stroke-linecap="round" />
<path d="M496.2 607.3L495.7 603.8" fill="none" stroke="#444" stroke-width="0.8" stroke-linecap="round" />
<path d="M496.2 607.3L499.0 605.1" fill="none" stroke="#444" stroke-width="0.8" stroke-linecap="round" />
<path d="M492 622Q480 640 463.8 647.2" fill="none" stroke="#444" stroke-width="0.8" stroke-linecap="round" />
<path d="M463.8 647.2L465.8 644.3" fill="none" stroke="#444" stroke-width="0.8" stroke-linecap="round" />
<path d="M463.8 647.2L467.3 647.5" fill="none" stroke="#444" stroke-width="0.8" stroke-linecap="round" />
<text x="452.0" y="636.7" font-size="11.7" textLength="12.6" lengthAdjust="spacingAndGlyphs" fill="#333" font-weight="normal" font-style="normal" font-family='"Liberation Sans",sans-serif' transform="rotate(20 458.3 632.5)">HS</text>
<path d="M435.5 637.0L439.1 640.6M439.1 637.2L435.5 640.4" fill="none" stroke="#444" stroke-width="0.8" stroke-linecap="round" />
<text x="397.3" y="659.9" font-size="14.7" textLength="12.7" lengthAdjust="spacingAndGlyphs" fill="#333" font-weight="normal" font-style="normal" font-family='"Liberation Sans",sans-serif'>AZ</text>
<text x="412.0" y="672.5" font-size="14.6" textLength="12.7" lengthAdjust="spacingAndGlyphs" fill="#333" font-weight="normal" font-style="normal" font-family='"Liberation Sans",sans-serif'>RR</text>
<text x="471.0" y="674.6" font-size="14.7" textLength="16.8" lengthAdjust="spacingAndGlyphs" fill="#444" font-weight="normal" font-style="normal" font-family='"Liberation Sans",sans-serif'>PM</text>
<text x="433.0" y="695.6" font-size="14.7" textLength="14.8" lengthAdjust="spacingAndGlyphs" fill="#222" font-weight="normal" font-style="normal" font-family='"Liberation Sans",sans-serif'>BC</text>
<path d="M434 685Q424 672 420.4 659.9L423.4 645" fill="none" stroke="#444" stroke-width="0.8" stroke-linecap="round" />
<path d="M423.4 645.0L424.4 647.8" fill="none" stroke="#444" stroke-width="0.8" stroke-linecap="round" />
<path d="M423.4 645.0L421.5 647.3" fill="none" stroke="#444" stroke-width="0.8" stroke-linecap="round" />
<path d="M437 684Q428 670 424 650" fill="none" stroke="#444" stroke-width="0.7" stroke-linecap="round" />
<path d="M442 523Q443 560 436 585Q424 615 420.5 638.8" fill="none" stroke="#555" stroke-width="0.8" stroke-linecap="round" />
<path d="M447 523Q449 560 441 588Q428 618 423 640" fill="none" stroke="#555" stroke-width="0.8" stroke-linecap="round" />
<path d="M452 523Q453 560 445 590Q434 620 426 642" fill="none" stroke="#555" stroke-width="0.8" stroke-linecap="round" />
<path d="M433 588Q452 600 458 625Q462 650 440 668Q428 672 422 655" fill="none" stroke="#999" stroke-width="0.7" stroke-linecap="round" />
<path d="M420.4 645Q410 680 399.4 708.2" fill="none" stroke="#444" stroke-width="0.8" stroke-linecap="round" />
<path d="M399.4 708.2L398.8 704.8" fill="none" stroke="#444" stroke-width="0.8" stroke-linecap="round" />
<path d="M399.4 708.2L402.1 706.0" fill="none" stroke="#444" stroke-width="0.8" stroke-linecap="round" />
<text x="390.5" y="720.0" font-size="10.4" textLength="6.0" lengthAdjust="spacingAndGlyphs" fill="#444" font-weight="normal" font-style="normal" font-family='"Liberation Sans",sans-serif'>B</text>
<text x="389.0" y="732.5" font-size="11.1" textLength="5.5" lengthAdjust="spacingAndGlyphs" fill="#444" font-weight="normal" font-style="normal" font-family='"Liberation Sans",sans-serif'>6</text>
<path d="M588 692A10 10 0 0 0 592 712" fill="none" stroke="#ddd" stroke-width="0.8" stroke-linecap="round" />
<path d="M583 385A10.5 10.5 0 0 0 588 403" fill="none" stroke="#e2e2e2" stroke-width="0.8" stroke-linecap="round" /></g>
</svg></body></html>
